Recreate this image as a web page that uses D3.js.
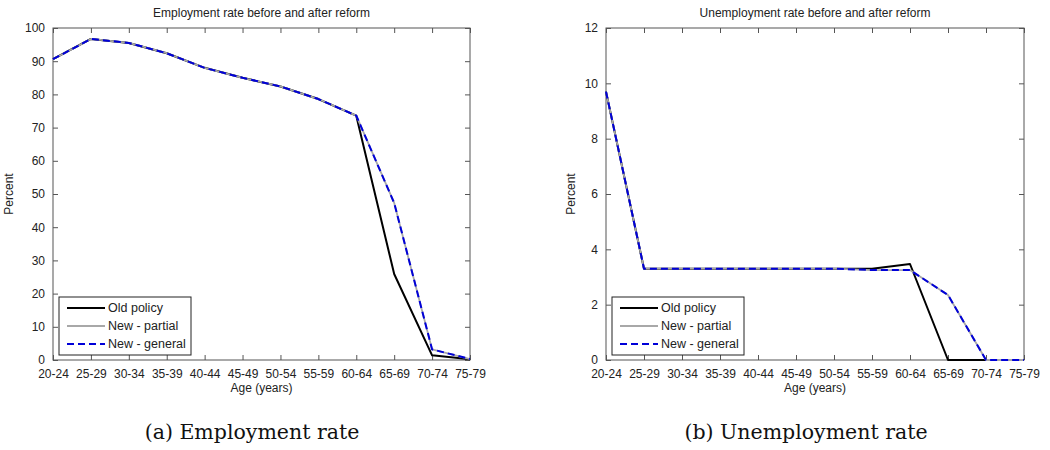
<!DOCTYPE html>
<html lang="en">
<head>
<meta charset="UTF-8">
<title>Employment and unemployment before and after reform</title>
<script src="https://d3js.org/d3.v7.min.js"></script>
<style>
  body { margin: 0; background: #fff; }
  text { font-family: "Liberation Sans", Arial, sans-serif; fill: #222; }
  .caption { font-family: "DejaVu Serif", serif; font-size: 20.5px; fill: #111; }
</style>
</head>
<body>
<div class="canvas"></div>
<script>
const ages = ['20-24','25-29','30-34','35-39','40-44','45-49','50-54','55-59','60-64','65-69','70-74','75-79'];

// employment rate (%)
const empOld     = [90.6, 96.7, 95.5, 92.4, 88.0, 85.0, 82.4, 78.6, 73.6, 25.9, 1.4, 0.2];
const empPartial = [90.6, 96.7, 95.5, 92.4, 88.0, 85.0, 82.4, 78.6, 73.6, 47.3, 3.2, 0.3];
const empGeneral = [90.6, 96.7, 95.5, 92.4, 88.0, 85.0, 82.4, 78.6, 73.6, 47.3, 3.2, 0.3];
const empTicks   = [0, 10, 20, 30, 40, 50, 60, 70, 80, 90, 100];

// unemployment rate (%)
const unempOld     = [9.7, 3.3, 3.3, 3.3, 3.3, 3.3, 3.3, 3.3, 3.47, 0, 0, 0];
const unempPartial = [9.7, 3.3, 3.3, 3.3, 3.3, 3.3, 3.3, 3.25, 3.25, 2.35, 0, 0];
const unempGeneral = [9.7, 3.3, 3.3, 3.3, 3.3, 3.3, 3.3, 3.25, 3.25, 2.35, 0, 0];
const unempTicks   = [0, 2, 4, 6, 8, 10, 12];

const legendLabels = ['Old policy', 'New - partial', 'New - general'];

const width = 1050, height = 450;
const svg = d3.select('.canvas').append('svg')
  .attr('width', width).attr('height', height);

const styles = [
  { color: '#000', w: 2, dash: null },
  { color: '#a8a8a8', w: 1.8, dash: null },
  { color: '#0000d8', w: 2, dash: '7,4' }
];

function panel(opt) {
  const { left, right, top, bottom } = opt;
  const g = svg.append('g');

  const x = d3.scalePoint().domain(ages).range([left, right]);
  const y = d3.scaleLinear().domain([0, opt.yMax]).range([bottom, top]);

  // frame
  g.append('rect')
    .attr('x', left).attr('y', top)
    .attr('width', right - left).attr('height', bottom - top)
    .attr('fill', 'none').attr('stroke', '#555').attr('stroke-width', 1);

  // axes with inward ticks
  const xAxis = d3.axisBottom(x).tickSizeInner(-5).tickSizeOuter(0).tickPadding(9);
  const xAxisTop = d3.axisTop(x).tickSizeInner(-5).tickSizeOuter(0).tickFormat('');
  const yAxis = d3.axisLeft(y).tickValues(opt.ticks).tickSizeInner(-5).tickSizeOuter(0).tickPadding(8);
  const yAxisRight = d3.axisRight(y).tickValues(opt.ticks).tickSizeInner(-5).tickSizeOuter(0).tickFormat('');

  [[xAxis, `translate(0,${bottom})`], [xAxisTop, `translate(0,${top})`],
   [yAxis, `translate(${left},0)`], [yAxisRight, `translate(${right},0)`]].forEach(([ax, tr]) => {
    const a = g.append('g').attr('transform', tr).call(ax);
    a.select('.domain').remove();
    a.selectAll('line').attr('stroke', '#555');
    a.selectAll('text').attr('font-size', 12).attr('fill', '#222')
      .attr('font-family', '"Liberation Sans", Arial, sans-serif');
  });

  // lines
  const line = d3.line().x((d, i) => x(ages[i])).y(d => y(d));
  opt.series.forEach((s, i) => {
    g.append('path')
      .attr('d', line(s))
      .attr('fill', 'none')
      .attr('stroke', styles[i].color)
      .attr('stroke-width', styles[i].w)
      .attr('stroke-dasharray', styles[i].dash)
      .attr('stroke-linejoin', 'round');
  });

  // titles
  g.append('text')
    .attr('x', (left + right) / 2).attr('y', 17)
    .attr('text-anchor', 'middle').attr('font-size', 12)
    .text(opt.title);
  g.append('text')
    .attr('x', (left + right) / 2).attr('y', 392)
    .attr('text-anchor', 'middle').attr('font-size', 12)
    .text('Age (years)');
  g.append('text')
    .attr('transform', `translate(${opt.yLabelX},${(top + bottom) / 2}) rotate(-90)`)
    .attr('text-anchor', 'middle').attr('font-size', 12)
    .text('Percent');
  g.append('text')
    .attr('class', 'caption')
    .attr('x', opt.captionX).attr('y', 439)
    .attr('text-anchor', 'middle')
    .text(opt.caption);

  // legend
  const lx = left + 6, ly = 297;
  const lg = g.append('g');
  lg.append('rect')
    .attr('x', lx).attr('y', ly).attr('width', 132).attr('height', 58)
    .attr('fill', '#fff').attr('stroke', '#222').attr('stroke-width', 1);
  legendLabels.forEach((lab, i) => {
    const yy = ly + 11 + i * 18;
    lg.append('line')
      .attr('x1', lx + 8).attr('x2', lx + 46)
      .attr('y1', yy).attr('y2', yy)
      .attr('stroke', styles[i].color)
      .attr('stroke-width', styles[i].w)
      .attr('stroke-dasharray', styles[i].dash);
    lg.append('text')
      .attr('x', lx + 49).attr('y', yy + 4)
      .attr('font-size', 12.5)
      .text(lab);
  });
}

panel({
  left: 53, right: 470, top: 28, bottom: 360,
  yMax: 100, ticks: empTicks,
  series: [empOld, empPartial, empGeneral],
  title: 'Employment rate before and after reform',
  caption: '(a) Employment rate', captionX: 252, yLabelX: 13
});

panel({
  left: 606, right: 1024, top: 28, bottom: 360,
  yMax: 12, ticks: unempTicks,
  series: [unempOld, unempPartial, unempGeneral],
  title: 'Unemployment rate before and after reform',
  caption: '(b) Unemployment rate', captionX: 806, yLabelX: 575
});
</script>
</body>
</html>
